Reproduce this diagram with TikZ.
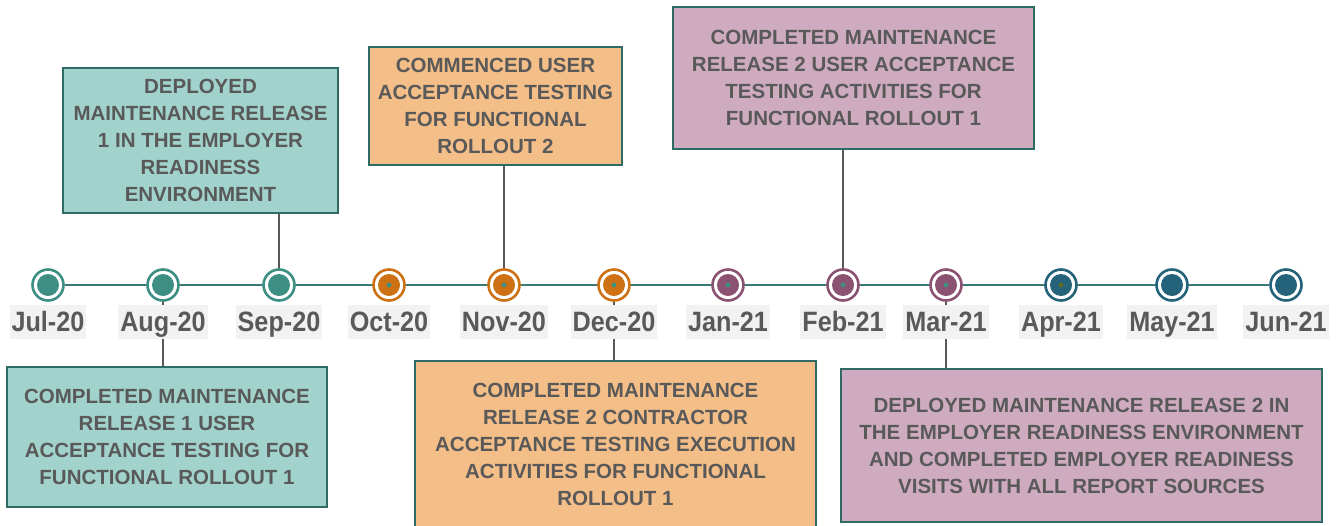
\documentclass[tikz,border=0pt]{standalone}
\usepackage{fontspec}
\setmainfont{Liberation Sans}
\newfontfamily\datumfont[FakeStretch=0.9]{Liberation Sans}
\usetikzlibrary{backgrounds}

\definecolor{gruen}{HTML}{3E8F83}
\definecolor{orange}{HTML}{CD7114}
\definecolor{lila}{HTML}{8B5272}
\definecolor{blau}{HTML}{25637A}
\definecolor{hellgruen}{HTML}{A1D3CC}
\definecolor{hellorange}{HTML}{F4BE88}
\definecolor{helllila}{HTML}{CFABC0}
\definecolor{randgruen}{HTML}{2F6B64}
\definecolor{textgrau}{HTML}{595959}
\definecolor{labelgrau}{HTML}{F2F2F2}
\definecolor{achse}{HTML}{3B7B77}
\definecolor{oliv}{HTML}{5E6B25}

\begin{document}
\begin{tikzpicture}[x=1pt, y=-1pt,
  monat/.style={circle, draw=#1, fill=white, line width=2.6pt, minimum size=31pt, inner sep=0pt,
    path picture={\fill[#1] (path picture bounding box.center) circle (11pt);}},
  datum/.style={fill=labelgrau, text=textgrau, font=\datumfont\bfseries\fontsize{28}{28}\selectfont,
    inner xsep=2pt, inner ysep=5pt, text height=21pt, text depth=3pt},
  kasten/.style={draw=randgruen, line width=2pt, fill=#1, text=textgrau, align=center,
    font=\bfseries\fontsize{20.5}{27}\selectfont, inner sep=0pt},
  verbinder/.style={draw=textgrau, line width=1.8pt}]
  \useasboundingbox (0,0) rectangle (1341,525);

  % Monate
  \foreach \x/\farbe/\monatname [count=\i] in {48/gruen/Jul-20, 163/gruen/Aug-20, 279/gruen/Sep-20,
      389/orange/Oct-20, 504/orange/Nov-20, 614/orange/Dec-20, 728/lila/Jan-21, 843/lila/Feb-21,
      946/lila/Mar-21, 1061/blau/Apr-21, 1172/blau/May-21, 1286/blau/Jun-21} {
    \node[monat=\farbe] (m\i) at (\x,285) {};
    \node[datum] (d\i) at (\x,322) {\monatname};
  }
  \foreach \i in {4,...,9} \fill[gruen] (m\i) circle (2.4pt);
  \fill[oliv] (m10) circle (2.4pt);

  % Ereignisse oben
  \node[kasten=hellgruen, minimum width=275pt, minimum height=145pt] (sep) at (200.5,140.5) {
    DEPLOYED\\MAINTENANCE RELEASE\\1 IN THE EMPLOYER\\READINESS\\ENVIRONMENT};
  \node[kasten=hellorange, minimum width=253pt, minimum height=118pt] (nov) at (495.5,106) {
    COMMENCED USER\\ACCEPTANCE TESTING\\FOR FUNCTIONAL\\ROLLOUT 2};
  \node[kasten=helllila, minimum width=361pt, minimum height=142pt] (feb) at (853.5,78) {
    COMPLETED MAINTENANCE\\RELEASE 2 USER ACCEPTANCE\\TESTING ACTIVITIES FOR\\FUNCTIONAL ROLLOUT 1};

  % Ereignisse unten
  \node[kasten=hellgruen, minimum width=320pt, minimum height=140pt] (aug) at (167,437) {
    COMPLETED MAINTENANCE\\RELEASE 1 USER\\ACCEPTANCE TESTING FOR\\FUNCTIONAL ROLLOUT 1};
  \node[kasten=hellorange, minimum width=401pt, minimum height=166pt] (dec) at (615.5,444) {
    COMPLETED MAINTENANCE\\RELEASE 2 CONTRACTOR\\ACCEPTANCE TESTING EXECUTION\\ACTIVITIES FOR FUNCTIONAL\\ROLLOUT 1};
  \node[kasten=helllila, minimum width=481pt, minimum height=153pt] (mar) at (1081.5,445.5) {
    DEPLOYED MAINTENANCE RELEASE 2 IN\\THE EMPLOYER READINESS ENVIRONMENT\\AND COMPLETED EMPLOYER READINESS\\VISITS WITH ALL REPORT SOURCES};

  \begin{scope}[on background layer]
    \draw[achse, line width=2pt] (m1) -- (m12);
    \draw[verbinder] (sep.south -| m3) -- (m3.center);
    \draw[verbinder] (nov.south -| m5) -- (m5.center);
    \draw[verbinder] (feb.south -| m8) -- (m8.center);
    \draw[verbinder] (aug.north -| m2) -- (m2.center);
    \draw[verbinder] (dec.north -| m6) -- (m6.center);
    \draw[verbinder] (mar.north -| m9) -- (m9.center);
  \end{scope}
\end{tikzpicture}
\end{document}
